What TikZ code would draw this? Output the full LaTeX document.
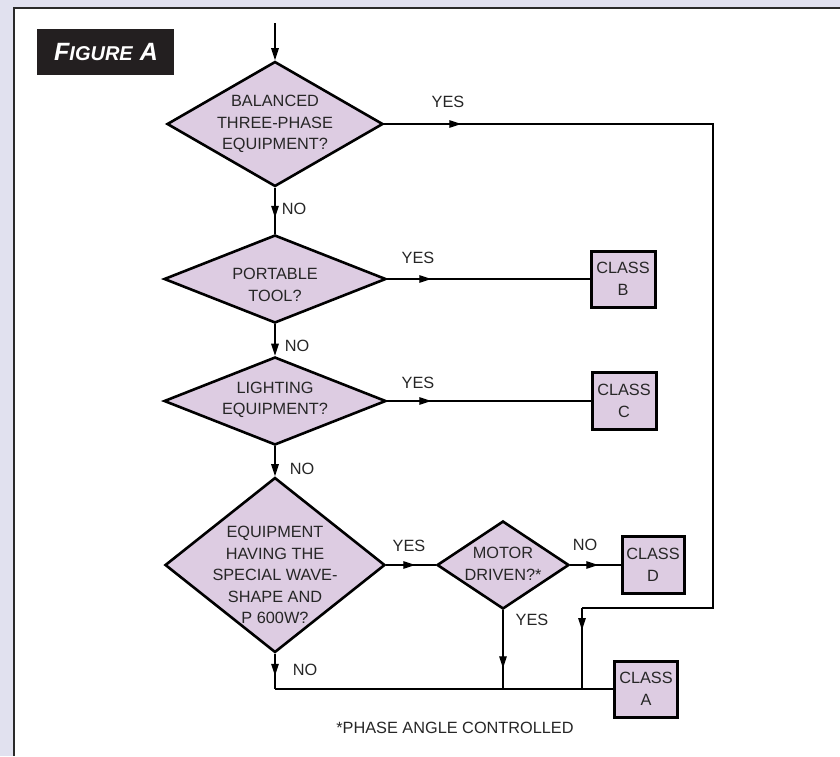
\documentclass[tikz,border=0pt]{standalone}
\usepackage{fontspec}
\setmainfont{Liberation Sans}
\usetikzlibrary{shapes.geometric,arrows.meta,decorations.markings}
\definecolor{bglav}{HTML}{E1E1EF}
\definecolor{dfill}{HTML}{DDCCE2}
\definecolor{ink}{HTML}{262626}
\definecolor{figblack}{HTML}{231F20}
\definecolor{frameline}{HTML}{2A2A2A}
\begin{document}
\begin{tikzpicture}[x=1pt,y=-1pt,
  dia/.style={diamond,draw=black,line width=2.6pt,fill=dfill,inner sep=0pt},
  txt/.style={font=\fontsize{16.3}{21.5}\selectfont,text=ink,align=center,inner sep=0pt},
  lbl/.style={font=\fontsize{16.3}{21.5}\selectfont,text=ink,inner sep=0pt},
  box/.style={rectangle,draw=black,line width=3pt,fill=dfill,inner sep=0pt,align=center,
    font=\fontsize{16.3}{21.5}\selectfont,text=ink},
  conn/.style={line width=1.3pt,draw=black},
  tip/.style={-{Triangle[length=12pt,width=7.5pt]}},
  arrowat/.style={postaction={decorate},decoration={markings,
    mark=at position #1 with {\arrow{Triangle[length=12pt,width=7.5pt]}}}}]
\useasboundingbox (0,0) rectangle (840,756);
\fill[bglav] (0,0) rectangle (840,756);
\fill[white] (14,8) rectangle (840,756);
\draw[frameline,line width=1.6pt] (14,756) -- (14,8) -- (840,8);

% title
\node[fill=figblack,minimum width=137,minimum height=46,inner sep=0pt] (fig) at (105.5,52) {};
\node[text=white,inner sep=0pt,font=\bfseries\itshape\fontsize{25}{25}\selectfont] (figt) at (106,52)
  {F{\fontsize{20}{20}\selectfont IGURE} A};

% decisions
\node[dia,minimum width=216,minimum height=125] (D1) at (275,124) {};
\node[txt] (D1t) at (275,124) {BALANCED\\THREE-PHASE\\EQUIPMENT?};
\node[dia,minimum width=222,minimum height=88] (D2) at (275,279) {};
\node[txt] (D2t) at (275,285) {PORTABLE\\TOOL?};
\node[dia,minimum width=222,minimum height=88] (D3) at (275,401) {};
\node[txt] (D3t) at (275,400) {LIGHTING\\EQUIPMENT?};
\node[dia,minimum width=220,minimum height=175] (D4) at (275,565) {};
\node[txt] (D4t) at (275,575) {EQUIPMENT\\HAVING THE\\SPECIAL WAVE-\\SHAPE AND\\P 600W?};
\node[dia,minimum width=132,minimum height=88] (M) at (503,565) {};
\node[txt] (Mt) at (503,564) {MOTOR\\DRIVEN?*};

% classes
\node[box,minimum width=64,minimum height=56] (B) at (623,279) {CLASS\\B};
\node[box,minimum width=64,minimum height=57] (C) at (624,401) {CLASS\\C};
\node[box,minimum width=62,minimum height=57] (CD) at (653,565) {CLASS\\D};
\node[box,minimum width=63,minimum height=56] (CA) at (646,689) {CLASS\\A};

% coordinates
\coordinate (S) at (275,23);
\coordinate (R1) at (713,124);
\coordinate (R2) at (713,608);
\coordinate (R3) at (582,608);
\coordinate (J1) at (582,689);
\coordinate (J2) at (503,689);
\coordinate (J0) at (275,689);

% connectors
\draw[conn,tip] (S) -- (D1.north);
\draw[conn,arrowat=77pt] (D1.east) -- (R1) -- (R2) -- (R3);
\draw[conn,arrowat=22pt] (R3) -- (J1);
\draw[conn,arrowat=30pt] (D1.south) -- (D2.north);
\draw[conn,tip] (D2.south) -- (D3.north);
\draw[conn,tip] (D3.south) -- (D4.north);
\draw[conn,arrowat=44pt] (D2.east) -- (B.west);
\draw[conn,arrowat=44pt] (D3.east) -- (C.west);
\draw[conn,arrowat=29pt] (D4.east) -- (M.west);
\draw[conn,arrowat=28pt] (M.east) -- (CD.west);
\draw[conn,arrowat=58pt] (M.south) -- (J2);
\draw[conn,arrowat=22pt] (D4.south) -- (J0);
\draw[conn] (J0) -- (CA.west);

% labels
\node[lbl] (y1) at (448,102) {YES};
\node[lbl] (n1) at (294,209) {NO};
\node[lbl] (y2) at (418,258) {YES};
\node[lbl] (n2) at (297,346) {NO};
\node[lbl] (y3) at (418,383) {YES};
\node[lbl] (n3) at (302,469) {NO};
\node[lbl] (y4) at (409,546) {YES};
\node[lbl] (n4) at (585,545) {NO};
\node[lbl] (y5) at (532,620) {YES};
\node[lbl] (n5) at (305,670) {NO};
\node[lbl] (fn) at (455,728) {*PHASE ANGLE CONTROLLED};
\end{tikzpicture}
\end{document}
